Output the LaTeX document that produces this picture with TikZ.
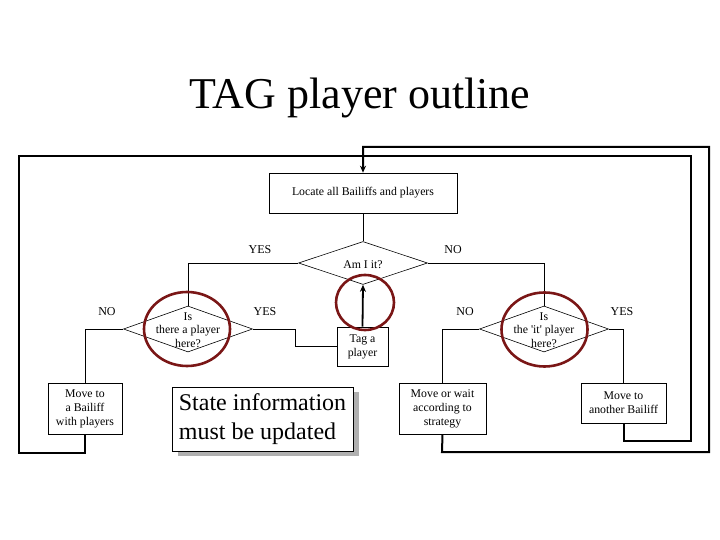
\documentclass[tikz,border=0pt]{standalone}
\usepackage{fontspec}
\setmainfont{Liberation Serif}
\usetikzlibrary{shapes.geometric,arrows.meta}
\definecolor{ringred}{RGB}{122,22,22}
\definecolor{shadowgray}{RGB}{176,176,176}
\begin{document}
\begin{tikzpicture}[x=1pt,y=-1pt,
  box/.style={draw,line width=0.6pt,inner sep=0pt,align=center,font=\fontsize{11.8}{14}\selectfont},
  dia/.style={draw,diamond,line width=0.6pt,inner sep=0pt,minimum width=129pt,minimum height=46pt},
  diatext/.style={align=center,inner sep=0pt,font=\fontsize{11.8}{13.5}\selectfont},
  conn/.style={line width=0.6pt},
  loopline/.style={line width=2pt},
  lbl/.style={font=\fontsize{12}{14}\selectfont},
  ring/.style={draw=ringred,line width=2.6pt}]
\useasboundingbox (0,0) rectangle (720,540);

\node[font=\fontsize{44}{52}\selectfont] (title) at (360,98) {TAG player outline};

\node[box,minimum width=188pt,minimum height=40pt] (locate) at (363,193) {Locate all Bailiffs and players};
\node[dia,minimum height=43pt] (am) at (363,263) {};
\node[diatext] (amt) at (363,265) {Am I it?};

\node[dia] (d2) at (188,329) {};
\node[diatext] (d2t) at (188,330) {Is\\there a player\\here?};
\node[dia] (d3) at (544,329) {};
\node[diatext] (d3t) at (544,330) {Is\\the \textquotesingle it\textquotesingle{} player\\here?};

\node[box,minimum width=74pt,minimum height=51pt] (mb) at (85,408.5) {Move to\\a Bailiff\\with players};
\node[box,minimum width=51pt,minimum height=39pt] (tag) at (362.5,346.5) {Tag a\\player};
\node[box,minimum width=87pt,minimum height=51pt] (wait) at (442.5,408.5) {Move or wait\\according to\\strategy};
\node[box,minimum width=85pt,minimum height=40pt] (ma) at (623.5,403) {Move to\\another Bailiff};

\fill[shadowgray] (178,392) rectangle (359,456);
\node[draw,fill=white,line width=0.6pt,minimum width=181pt,minimum height=64pt,inner sep=0pt,align=left,
  font=\fontsize{24}{29}\selectfont] (state) at (262.5,419) {State information\\must be updated};

% connectors
\draw[conn] (locate.south) -- (am.north);
\draw[conn] (am.west) -| (d2.north);
\draw[conn] (am.east) -| (d3.north);
\draw[conn] (d2.west) -| (mb.north);
\coordinate (bend) at (295,329);
\draw[conn] (d2.east) -- (bend) |- (tag.west);
\draw[conn] (d3.west) -| (wait.north);
\draw[conn] (d3.east) -| (ma.north);
\draw[line width=1.8pt,-{Stealth[length=7pt,width=6pt]}] (tag.north) -- (am.south);

\node[lbl] (yes1) at (260,250) {YES};
\node[lbl] (no1) at (453,250) {NO};
\node[lbl] (no2) at (107,312) {NO};
\node[lbl] (yes2) at (265,312) {YES};
\node[lbl] (no3) at (465,312) {NO};
\node[lbl] (yes3) at (622,312) {YES};

% loops
\coordinate (w1) at (442,452);
\coordinate (w2) at (709,452);
\coordinate (w3) at (709,147);
\coordinate (w4) at (363,147);
\draw[loopline,-{Stealth[length=7pt,width=6pt]}] (wait.south) -- (w1) -- (w2) -- (w3) -- (w4) -- (locate.north);
\coordinate (b1) at (85,453);
\coordinate (b2) at (19,453);
\coordinate (b3) at (19,156);
\coordinate (b4) at (691,156);
\coordinate (b5) at (691,441);
\coordinate (b6) at (623.5,441);
\draw[loopline] (mb.south) -- (b1) -- (b2) -- (b3) -- (b4) -- (b5) -- (b6) -- (ma.south);

% rings
\draw[ring] (187,329) ellipse [x radius=43, y radius=37];
\draw[ring] (544.5,329.5) ellipse [x radius=43, y radius=37];
\draw[ring] (365,302.5) ellipse [x radius=29, y radius=27.5];
\end{tikzpicture}
\end{document}
